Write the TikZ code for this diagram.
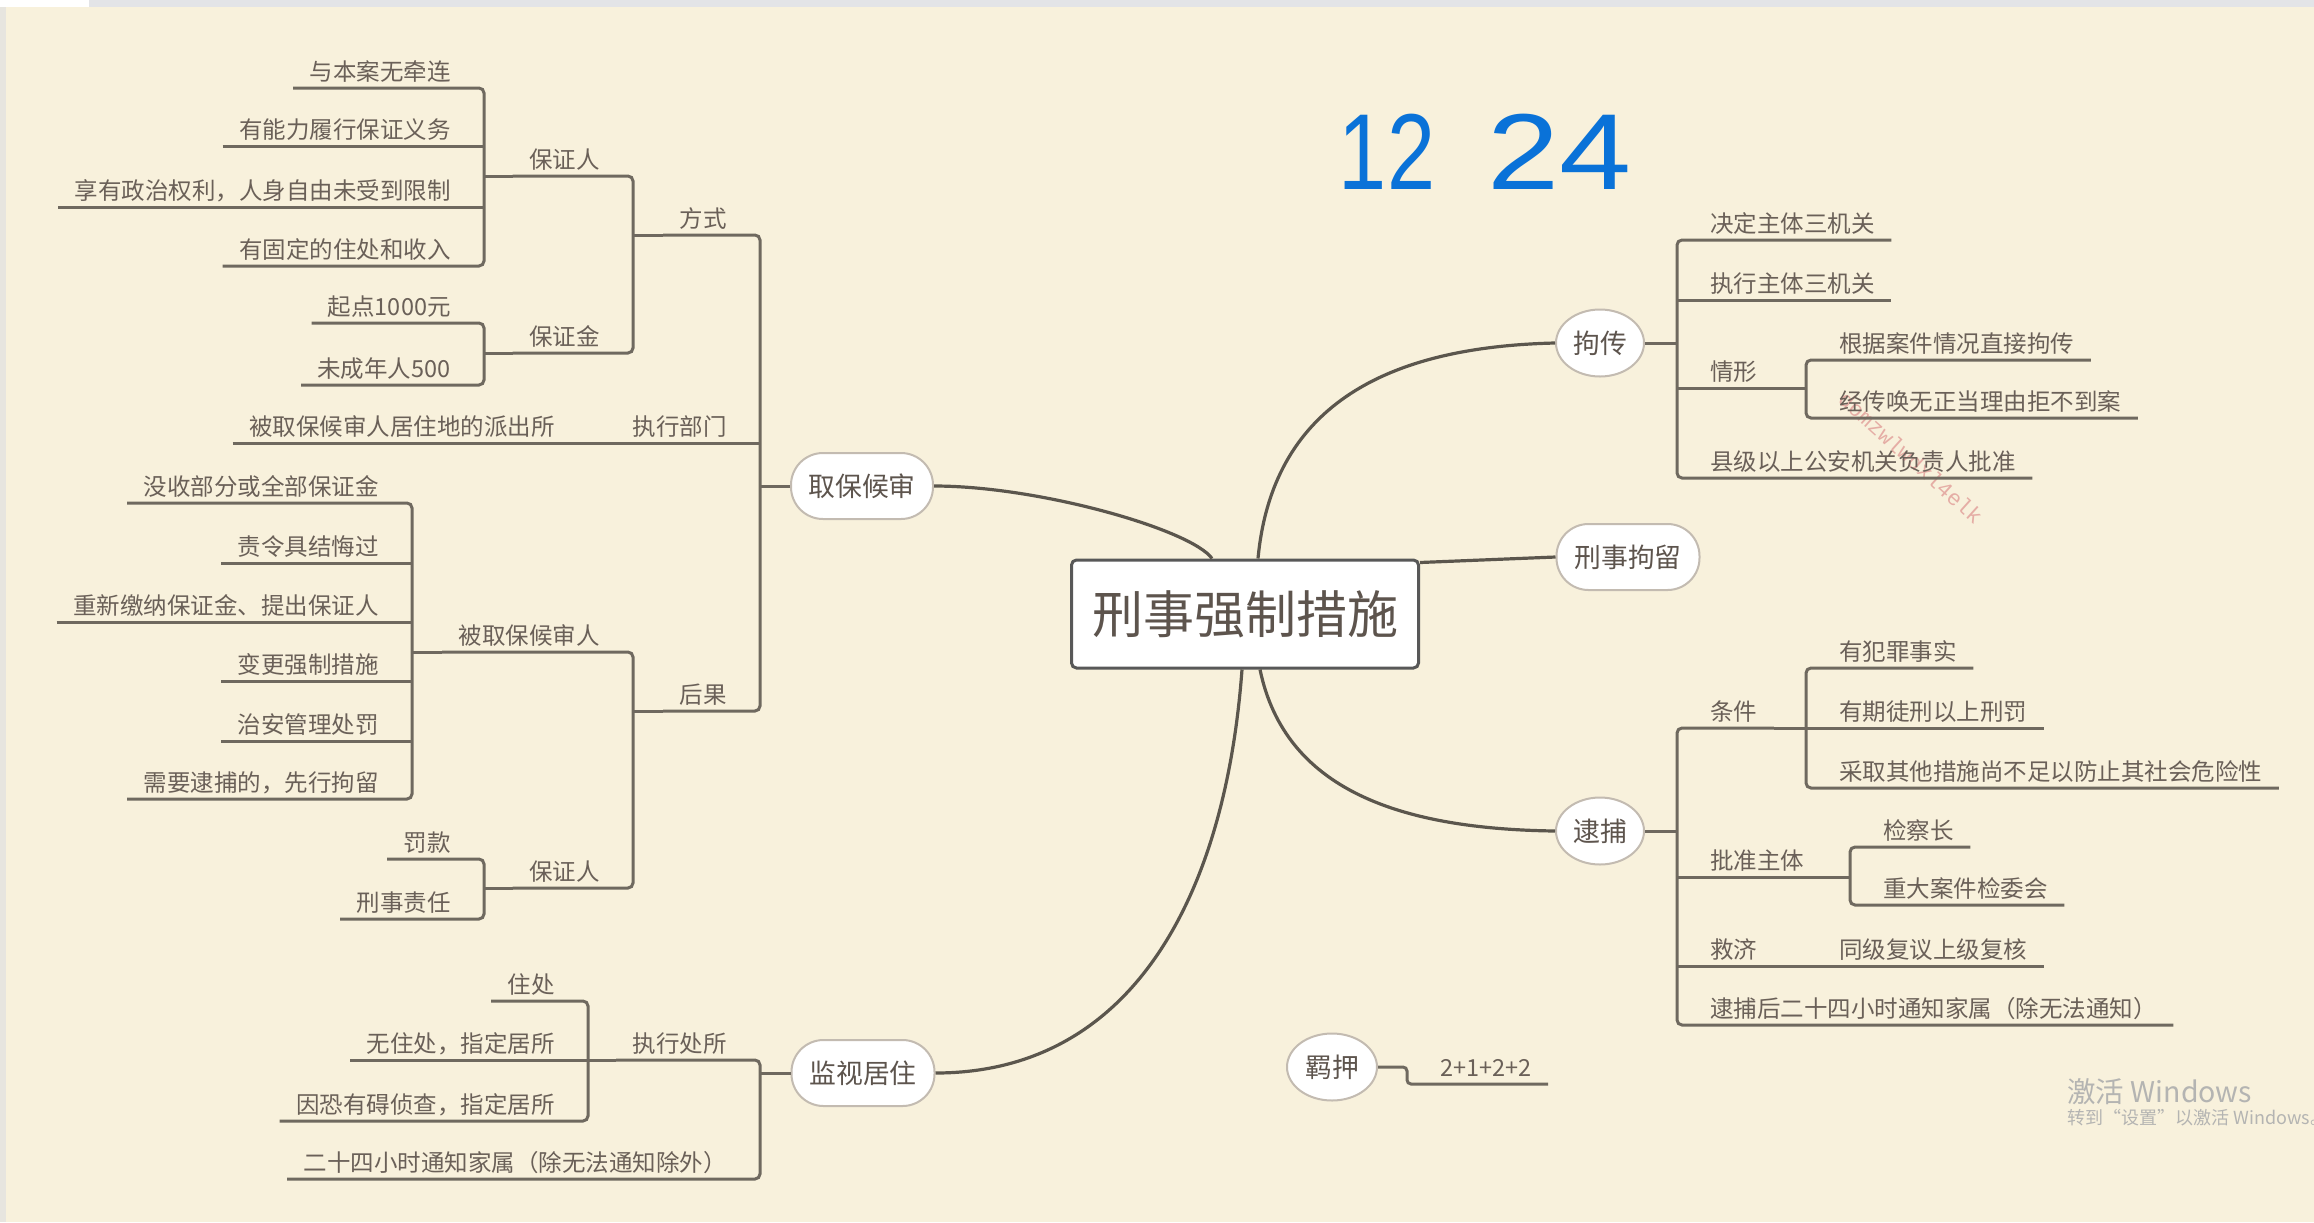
\documentclass[tikz,border=0pt]{standalone}
\usepackage{fontspec}
\setmainfont{Noto Sans CJK SC}
\newfontfamily\handfont{Liberation Sans}
\newfontfamily\wmfont{Liberation Mono}
\usetikzlibrary{calc,shapes.geometric}
\definecolor{bg}{HTML}{F8F1DC}
\definecolor{ln}{HTML}{6F695F}
\definecolor{mainln}{HTML}{5B564D}
\definecolor{txt}{HTML}{6A6058}
\definecolor{ntxt}{HTML}{5D544D}
\definecolor{nbd}{HTML}{C3BBB1}
\definecolor{cbd}{HTML}{585858}
\definecolor{topgray}{HTML}{E3E4E7}
\definecolor{leftgray}{HTML}{E7E5DF}
\definecolor{handblue}{HTML}{0A72D8}
\definecolor{wmred}{HTML}{E2A29C}
\definecolor{wingray}{HTML}{B4B4B2}
\newcommand\leafsize{\fontsize{11.75pt}{14pt}\selectfont}
\newcommand\topicsize{\fontsize{13.4pt}{16pt}\selectfont}
\newcommand\centersize{\fontsize{25.5pt}{30pt}\selectfont}
\begin{document}
\begin{tikzpicture}[x=0.5pt,y=-0.5pt,
  leafbase/.style={font=\leafsize, text=txt, inner xsep=8pt, inner ysep=0.5pt, text height=10pt, text depth=3pt},
  lt/.style={leafbase, anchor=south east, execute at end node={\hspace*{8.5pt}}},
  rt/.style={leafbase, anchor=south west, execute at begin node={\hspace*{8.5pt}}},
  conn/.style={draw=ln, line width=1.5pt, rounded corners=2.5pt},
  topic/.style={draw=nbd, line width=1pt, fill=white, rounded corners=16pt, minimum height=33pt, inner sep=0pt, font=\topicsize, text=ntxt},
  roundtopic/.style={ellipse, draw=nbd, line width=1pt, fill=white, minimum height=33.5pt, inner sep=0pt, font=\topicsize, text=ntxt},
  central/.style={draw=cbd, line width=1.5pt, fill=white, rounded corners=2.5pt, minimum width=173.5pt, minimum height=54pt, inner sep=0pt, font=\centersize, text=ntxt},
  curve/.style={draw=mainln, line width=1.6pt}
]
\useasboundingbox (0,0) rectangle (2314,1222);
\fill[bg] (0,0) rectangle (2314,1222);
\fill[white] (0,0) rectangle (89,7);
\fill[topgray] (89,0) rectangle (2314,7);
\fill[leftgray] (0,7) rectangle (6,1222);

% watermark
\node[font=\wmfont\fontsize{11pt}{11pt}\selectfont, text=wmred, rotate=-42, opacity=0.85] (wmk) at (1911,458) {domzwlwdxl4elk};

% main topics
\node[central] (root) at (1245,614) {刑事强制措施};
\node[topic, minimum width=71pt] (qb) at (862,486) {取保候审};
\node[topic, minimum width=71.5pt] (jz) at (863,1073) {监视居住};
\node[roundtopic, minimum width=44pt] (jc) at (1600,343) {拘传};
\node[topic, minimum width=71.5pt] (xj) at (1628,557) {刑事拘留};
\node[roundtopic, minimum width=44pt] (db) at (1600,831) {逮捕};
\node[roundtopic, minimum width=45pt] (jy) at (1332,1067) {羁押};

% left leaves
\node[lt] (a1) at (484,88) {与本案无牵连};
\node[lt] (a2) at (484,146) {有能力履行保证义务};
\node[lt] (a3) at (484,207) {享有政治权利，人身自由未受到限制};
\node[lt] (a4) at (484,266) {有固定的住处和收入};
\node[lt] (b1) at (484,323) {起点1000元};
\node[lt] (b2) at (484,385) {未成年人500};
\node[lt] (bzr1) at (633,176) {保证人};
\node[lt] (bzj) at (633,353) {保证金};
\node[lt] (fs) at (760,235) {方式};
\node[lt] (pcs) at (588,443) {被取保候审人居住地的派出所};
\node[lt] (zxbm) at (760,443) {执行部门};
\node[lt] (c1) at (412,503) {没收部分或全部保证金};
\node[lt] (c2) at (412,563) {责令具结悔过};
\node[lt] (c3) at (412,622) {重新缴纳保证金、提出保证人};
\node[lt] (c4) at (412,681) {变更强制措施};
\node[lt] (c5) at (412,741) {治安管理处罚};
\node[lt] (c6) at (412,799) {需要逮捕的，先行拘留};
\node[lt] (bqr) at (633,652) {被取保候审人};
\node[lt] (hg) at (760,711) {后果};
\node[lt] (d1) at (484,859) {罚款};
\node[lt] (d2) at (484,919) {刑事责任};
\node[lt] (bzr2) at (633,888) {保证人};
\node[lt] (e1) at (588,1001) {住处};
\node[lt] (e2) at (588,1060) {无住处，指定居所};
\node[lt] (e3) at (588,1121) {因恐有碍侦查，指定居所};
\node[lt] (zxcs) at (760,1060) {执行处所};
\node[lt] (tz) at (760,1179) {二十四小时通知家属（除无法通知除外）};

% right leaves
\node[rt] (r1) at (1677,240) {决定主体三机关};
\node[rt] (r2) at (1677,300) {执行主体三机关};
\node[rt] (qx) at (1677,388) {情形};
\node[rt] (r3) at (1806,360) {根据案件情况直接拘传};
\node[rt] (r4) at (1806,418) {经传唤无正当理由拒不到案};
\node[rt] (r5) at (1677,478) {县级以上公安机关负责人批准};
\node[rt] (tj) at (1677,728) {条件};
\node[rt] (s1) at (1806,668) {有犯罪事实};
\node[rt] (s2) at (1806,728) {有期徒刑以上刑罚};
\node[rt] (s3) at (1806,788) {采取其他措施尚不足以防止其社会危险性};
\node[rt] (pz) at (1677,877) {批准主体};
\node[rt] (s4) at (1850,847) {检察长};
\node[rt] (s5) at (1850,905) {重大案件检委会};
\node[rt] (jj) at (1677,966) {救济};
\node[rt] (s6) at (1806,966) {同级复议上级复核};
\node[rt] (s7) at (1677,1025) {逮捕后二十四小时通知家属（除无法通知）};
\node[rt] (jy2) at (1407,1084) {2+1+2+2};

% ---- left connectors ----
\draw[conn] (a1.south west) -- (a1.south east) -- (a4.south east) -- (a4.south west);
\draw[conn] (a2.south west) -- (a2.south east);
\draw[conn] (a3.south west) -- (a3.south east);
\draw[conn] (b1.south west) -- (b1.south east) -- (b2.south east) -- (b2.south west);
\draw[conn] (bzr1.south west) -- (bzr1.south west -| a1.south east);
\draw[conn] (bzj.south west) -- (bzj.south west -| b1.south east);
\draw[conn] (bzr1.south west) -- (bzr1.south east) -- (bzj.south east) -- (bzj.south west);
\draw[conn] (fs.south west) -- (fs.south west -| bzr1.south east);
\draw[conn] (c1.south west) -- (c1.south east) -- (c6.south east) -- (c6.south west);
\draw[conn] (c2.south west) -- (c2.south east);
\draw[conn] (c3.south west) -- (c3.south east);
\draw[conn] (c4.south west) -- (c4.south east);
\draw[conn] (c5.south west) -- (c5.south east);
\draw[conn] (d1.south west) -- (d1.south east) -- (d2.south east) -- (d2.south west);
\draw[conn] (bqr.south west) -- (bqr.south west -| c1.south east);
\draw[conn] (bzr2.south west) -- (bzr2.south west -| d1.south east);
\draw[conn] (bqr.south west) -- (bqr.south east) -- (bzr2.south east) -- (bzr2.south west);
\draw[conn] (hg.south west) -- (hg.south west -| bqr.south east);
\draw[conn] (pcs.south west) -- (pcs.south east) -- (zxbm.south west) -- (zxbm.south east);
\draw[conn] (fs.south west) -- (fs.south east) -- (hg.south east) -- (hg.south west);
\draw[conn] (qb.west) -- (qb.west -| fs.south east);
\draw[conn] (e1.south west) -- (e1.south east) -- (e3.south east) -- (e3.south west);
\draw[conn] (e2.south west) -- (e2.south east);
\draw[conn] (zxcs.south west) -- (zxcs.south west -| e1.south east);
\draw[conn] (zxcs.south west) -- (zxcs.south east) -- (tz.south east) -- (tz.south west);
\draw[conn] (jz.west) -- (jz.west -| zxcs.south east);

% ---- right connectors ----
\draw[conn] (r1.south east) -- (r1.south west) -- (r5.south west) -- (r5.south east);
\draw[conn] (r2.south west) -- (r2.south east);
\draw[conn] (qx.south west) -- (qx.south east) -- (qx.south east -| r3.south west);
\draw[conn] (r3.south east) -- (r3.south west) -- (r4.south west) -- (r4.south east);
\draw[conn] (jc.east) -- (jc.east -| r1.south west);
\draw[conn] (tj.south east) -- (tj.south west) -- (s7.south west) -- (s7.south east);
\draw[conn] (tj.south east) -- (tj.south east -| s1.south west);
\draw[conn] (s1.south east) -- (s1.south west) -- (s3.south west) -- (s3.south east);
\draw[conn] (s2.south west) -- (s2.south east);
\draw[conn] (pz.south west) -- (pz.south east) -- (pz.south east -| s4.south west);
\draw[conn] (s4.south east) -- (s4.south west) -- (s5.south west) -- (s5.south east);
\draw[conn] (jj.south west) -- (jj.south east) -- (s6.south west) -- (s6.south east);
\draw[conn] (db.east) -- (db.east -| tj.south west);
\draw[conn, rounded corners=2pt] (jy.east) -- (jy.east -| jy2.south west) -- (jy2.south west) -- (jy2.south east);

% ---- central curves ----
\draw[curve] (qb.east) .. controls (1040,486) and (1192,530) .. ($(root.north)+(-33,0)$);
\draw[curve] ($(root.north)+(13,0)$) .. controls (1272,410) and (1380,347) .. (jc.west);
\draw[curve] ($(root.north east)+(0,4)$) -- (xj.west);
\draw[curve] ($(root.south)+(15,0)$) .. controls (1285,790) and (1400,829) .. (db.west);
\draw[curve] ($(root.south)+(-3,0)$) .. controls (1225,900) and (1130,1073) .. (jz.east);

% handwritten numbers
\node[font=\handfont\fontsize{54pt}{60pt}\selectfont, text=handblue, inner sep=0pt] (h12) at (1387,152) {\scalebox{0.8}[1]{12}};
\node[font=\handfont\fontsize{54pt}{60pt}\selectfont, text=handblue, inner sep=0pt] (h24) at (1560,152) {\scalebox{1.2}[1]{24}};

% system watermark
\node[anchor=west, font=\fontsize{14.25pt}{16pt}\selectfont, text=wingray, inner sep=0pt] (win1) at (2067,1092) {激活 Windows};
\node[anchor=west, font=\fontsize{9pt}{10pt}\selectfont, text=wingray, inner sep=0pt] (win2) at (2067,1118) {转到“设置”以激活 Windows。};
\end{tikzpicture}
\end{document}
